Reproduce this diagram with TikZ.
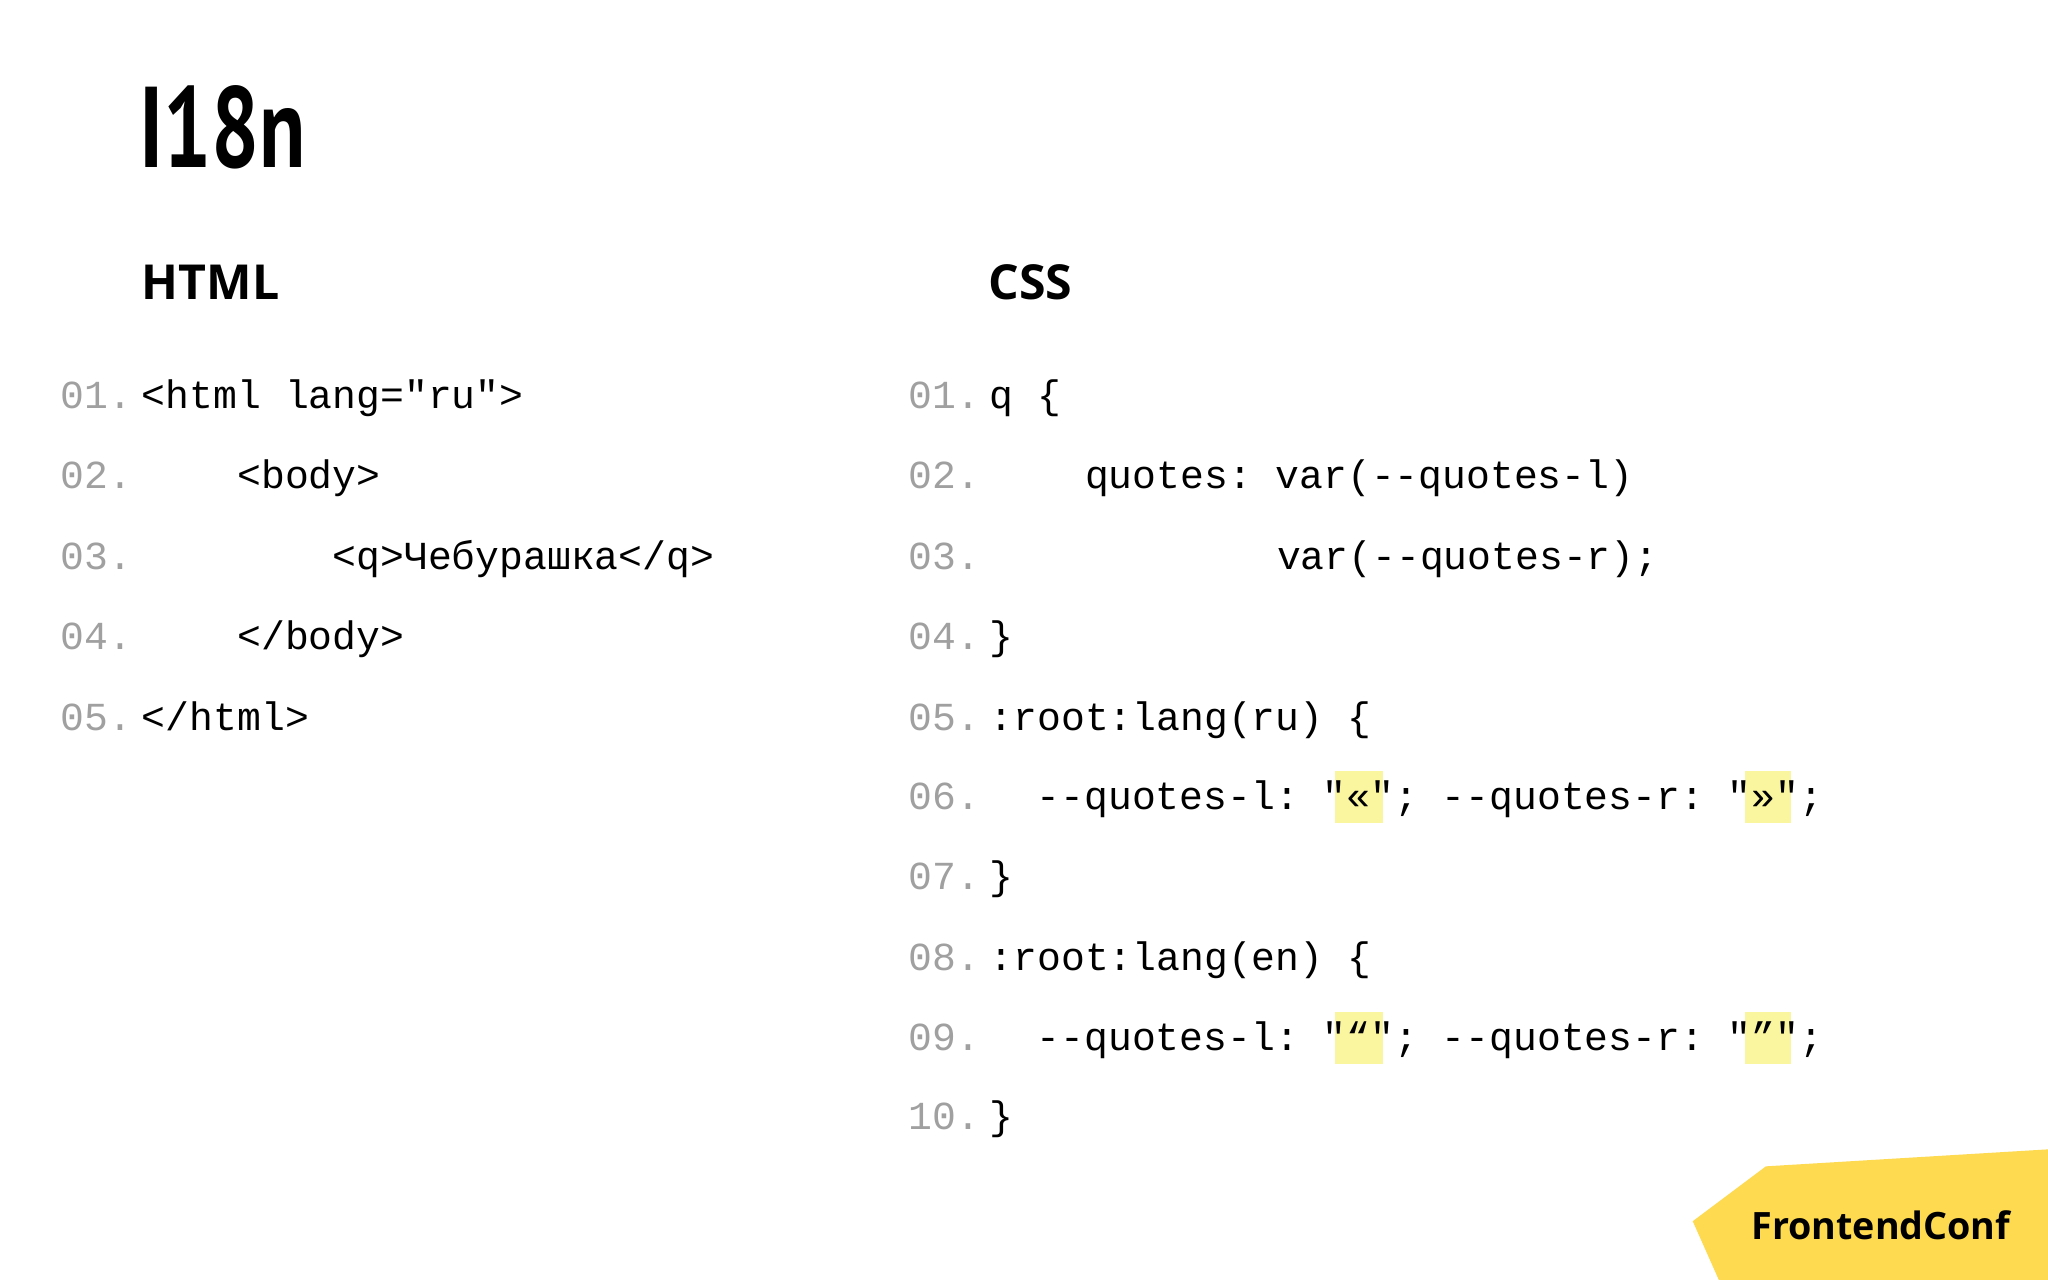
\documentclass[tikz,border=0pt]{standalone}
\usepackage{fontspec}
\setmainfont{Liberation Mono}
\newfontfamily\headfont[FakeStretch=0.74]{PT Sans}
\newfontfamily\labfont{Open Sans}
\newfontfamily\codefont{Liberation Mono}
\definecolor{numgray}{RGB}{160,160,160}
\definecolor{hl}{RGB}{250,246,160}
\definecolor{logoyel}{RGB}{253,218,80}
\frenchspacing
\begin{document}
\begin{tikzpicture}[x=0.01cm,y=-0.01cm,
  num/.style={anchor=base west,inner sep=0,font=\codefont\fontsize{8.65}{10}\selectfont,text=numgray},
  code/.style={anchor=base west,inner sep=0,font=\codefont\fontsize{8.65}{10}\selectfont,text=black},
  head/.style={anchor=base west,inner sep=0,font=\labfont\bfseries\fontsize{10.5}{12}\selectfont}]
\useasboundingbox (0,0) rectangle (1568,980);
\fill[white] (0,0) rectangle (1568,980);
% logo
\fill[logoyel] (1296,935) -- (1352,893) -- (1568,880) -- (1568,980) -- (1316,980) -- cycle;
\node[anchor=base,inner sep=0,font=\labfont\bfseries\fontsize{8.2}{10}\selectfont] (logo) at (1440,949) {FrontendConf};
% title
\node[anchor=base west,inner sep=0,font=\headfont\bfseries\fontsize{25}{30}\selectfont] (title) at (106,128) {I18n};
\node[head] (h1) at (108,229) {HTML};
\node[head] (h2) at (756,229) {CSS};
% highlights
\fill[hl] (1022,590) rectangle (1059,630);
\fill[hl] (1336,590) rectangle (1371,630);
\fill[hl] (1022,775) rectangle (1059,815);
\fill[hl] (1336,775) rectangle (1371,815);
% HTML
\node[num] (n1) at (46,313) {01.}; \node[code] (c1) at (108,313) {<html lang="ru">};
\node[num] (n2) at (46,374) {02.}; \node[code] (c2) at (181,374) {<body>};
\node[num] (n3) at (46,436) {03.}; \node[code] (c3) at (254,436) {<q>Чебурашка</q>};
\node[num] (n4) at (46,497) {04.}; \node[code] (c4) at (181,497) {</body>};
\node[num] (n5) at (46,559) {05.}; \node[code] (c5) at (108,559) {</html>};
% CSS
\node[num] (m1) at (695,313) {01.}; \node[code] (d1) at (757,313) {q \{};
\node[num] (m2) at (695,374) {02.}; \node[code] (d2) at (830,374) {quotes: var(--quotes-l)};
\node[num] (m3) at (695,436) {03.}; \node[code] (d3) at (977,436) {var(--quotes-r);};
\node[num] (m4) at (695,497) {04.}; \node[code] (d4) at (757,497) {\}};
\node[num] (m5) at (695,559) {05.}; \node[code] (d5) at (757,559) {:root:lang(ru) \{};
\node[num] (m6) at (695,620) {06.}; \node[code] (d6) at (793,620) {-{}-quotes-l: "«"; -{}-quotes-r: "»";};
\node[num] (m7) at (695,681) {07.}; \node[code] (d7) at (757,681) {\}};
\node[num] (m8) at (695,743) {08.}; \node[code] (d8) at (757,743) {:root:lang(en) \{};
\node[num] (m9) at (695,804) {09.}; \node[code] (d9) at (793,804) {-{}-quotes-l: "“"; -{}-quotes-r: "”";};
\node[num] (m10) at (695,865) {10.}; \node[code] (d10) at (757,865) {\}};
\end{tikzpicture}
\end{document}
